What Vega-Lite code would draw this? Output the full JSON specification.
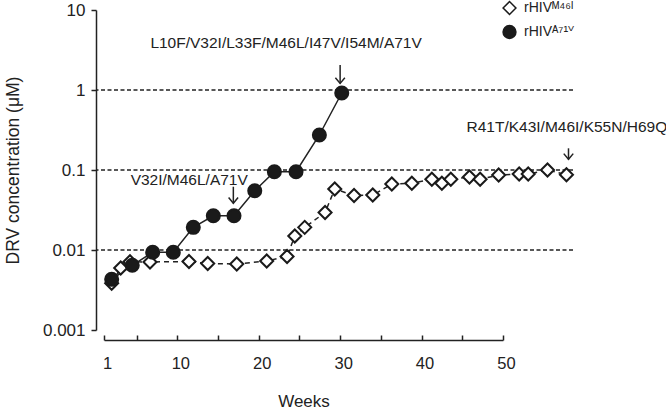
{
  "$schema": "https://vega.github.io/schema/vega-lite/v6.json",
  "width": 477,
  "height": 320,
  "autosize": "none",
  "padding": {"left": 96, "top": 10, "right": 93, "bottom": 83},
  "background": "white",
  "config": {
    "font": "Liberation Sans",
    "view": {"stroke": null},
    "axis": {"labelFont": "Liberation Sans", "titleFont": "Liberation Sans", "labelColor": "#222", "titleColor": "#222", "domainColor": "#222", "tickColor": "#222", "titleFontWeight": "normal", "grid": false, "domainWidth": 1.5, "tickWidth": 1.5},
    "legend": {"labelFont": "Liberation Sans, DejaVu Sans, sans-serif"}
  },
  "datasets": {
    "series": [
      {"s": "rHIVᴹ⁴⁶ᴵ", "w": 1.93, "v": 0.00384},
      {"s": "rHIVᴹ⁴⁶ᴵ", "w": 3.04, "v": 0.00596},
      {"s": "rHIVᴹ⁴⁶ᴵ", "w": 4.18, "v": 0.00714},
      {"s": "rHIVᴹ⁴⁶ᴵ", "w": 6.64, "v": 0.00708},
      {"s": "rHIVᴹ⁴⁶ᴵ", "w": 11.43, "v": 0.00718},
      {"s": "rHIVᴹ⁴⁶ᴵ", "w": 13.73, "v": 0.00678},
      {"s": "rHIVᴹ⁴⁶ᴵ", "w": 17.3, "v": 0.00668},
      {"s": "rHIVᴹ⁴⁶ᴵ", "w": 20.98, "v": 0.00729},
      {"s": "rHIVᴹ⁴⁶ᴵ", "w": 23.48, "v": 0.0083},
      {"s": "rHIVᴹ⁴⁶ᴵ", "w": 24.43, "v": 0.01496},
      {"s": "rHIVᴹ⁴⁶ᴵ", "w": 25.65, "v": 0.0192},
      {"s": "rHIVᴹ⁴⁶ᴵ", "w": 28.15, "v": 0.0294},
      {"s": "rHIVᴹ⁴⁶ᴵ", "w": 29.34, "v": 0.0579},
      {"s": "rHIVᴹ⁴⁶ᴵ", "w": 31.71, "v": 0.048},
      {"s": "rHIVᴹ⁴⁶ᴵ", "w": 34.01, "v": 0.0487},
      {"s": "rHIVᴹ⁴⁶ᴵ", "w": 36.35, "v": 0.0668},
      {"s": "rHIVᴹ⁴⁶ᴵ", "w": 38.81, "v": 0.0682},
      {"s": "rHIVᴹ⁴⁶ᴵ", "w": 41.27, "v": 0.0766},
      {"s": "rHIVᴹ⁴⁶ᴵ", "w": 42.5, "v": 0.0682},
      {"s": "rHIVᴹ⁴⁶ᴵ", "w": 43.6, "v": 0.0766},
      {"s": "rHIVᴹ⁴⁶ᴵ", "w": 45.89, "v": 0.0818},
      {"s": "rHIVᴹ⁴⁶ᴵ", "w": 47.2, "v": 0.0766},
      {"s": "rHIVᴹ⁴⁶ᴵ", "w": 49.48, "v": 0.0866},
      {"s": "rHIVᴹ⁴⁶ᴵ", "w": 52.0, "v": 0.0891},
      {"s": "rHIVᴹ⁴⁶ᴵ", "w": 53.11, "v": 0.0891},
      {"s": "rHIVᴹ⁴⁶ᴵ", "w": 55.48, "v": 0.1},
      {"s": "rHIVᴹ⁴⁶ᴵ", "w": 57.81, "v": 0.0873},
      {"s": "rHIVᴬ⁷¹ⱽ", "w": 1.93, "v": 0.0043},
      {"s": "rHIVᴬ⁷¹ⱽ", "w": 4.46, "v": 0.00644},
      {"s": "rHIVᴬ⁷¹ⱽ", "w": 6.97, "v": 0.00936},
      {"s": "rHIVᴬ⁷¹ⱽ", "w": 9.5, "v": 0.00936},
      {"s": "rHIVᴬ⁷¹ⱽ", "w": 11.96, "v": 0.0192},
      {"s": "rHIVᴬ⁷¹ⱽ", "w": 14.42, "v": 0.0268},
      {"s": "rHIVᴬ⁷¹ⱽ", "w": 16.96, "v": 0.0268},
      {"s": "rHIVᴬ⁷¹ⱽ", "w": 19.51, "v": 0.0551},
      {"s": "rHIVᴬ⁷¹ⱽ", "w": 21.92, "v": 0.0952},
      {"s": "rHIVᴬ⁷¹ⱽ", "w": 24.58, "v": 0.0952},
      {"s": "rHIVᴬ⁷¹ⱽ", "w": 27.45, "v": 0.274},
      {"s": "rHIVᴬ⁷¹ⱽ", "w": 30.2, "v": 0.917}
    ],
    "grid": [{"v": 1}, {"v": 0.1}, {"v": 0.01}],
    "notes": [
      {"label": "L10F/V32I/L33F/M46L/I47V/I54M/A71V", "w": 23.36, "v": 3.9, "top": 2.05, "tip": 1.21, "aw": 30.0},
      {"label": "V32I/M46L/A71V", "w": 11.46, "v": 0.0745, "top": 0.0618, "tip": 0.0384, "aw": 16.88},
      {"label": "R41T/K43I/M46I/K55N/H69Q", "w": 57.86, "v": 0.34, "top": 0.1867, "tip": 0.136, "aw": 58.06}
    ]
  },
  "layer": [
    {
      "data": {"name": "grid"},
      "mark": {"type": "rule", "strokeDash": [4, 2.5], "strokeWidth": 1.3, "color": "#222"},
      "encoding": {
        "y": {"field": "v", "type": "quantitative", "scale": {"type": "log", "domain": [0.001, 10], "nice": false}}
      }
    },
    {
      "data": {"name": "series"},
      "transform": [{"filter": "datum.s == 'rHIVᴹ⁴⁶ᴵ'"}],
      "mark": {"type": "line", "color": "#222", "strokeWidth": 1.5, "strokeDash": [5, 4], "clip": false},
      "encoding": {
        "x": {"field": "w", "type": "quantitative", "scale": {"domain": [1, 50], "range": [8.1, 406.9], "nice": false, "zero": false}},
        "y": {"field": "v", "type": "quantitative", "scale": {"type": "log", "domain": [0.001, 10], "nice": false}}
      }
    },
    {
      "data": {"name": "series"},
      "transform": [{"filter": "datum.s == 'rHIVᴬ⁷¹ⱽ'"}],
      "mark": {"type": "line", "color": "#222", "strokeWidth": 1.5, "clip": false},
      "encoding": {
        "x": {"field": "w", "type": "quantitative", "scale": {"domain": [1, 50], "range": [8.1, 406.9], "nice": false, "zero": false}},
        "y": {"field": "v", "type": "quantitative", "scale": {"type": "log", "domain": [0.001, 10], "nice": false}}
      }
    },
    {
      "data": {"name": "series"},
      "mark": {"type": "point", "filled": true, "stroke": "#1a1a1a", "strokeWidth": 2, "size": 170, "opacity": 1, "clip": false},
      "encoding": {
        "x": {"field": "w", "type": "quantitative", "scale": {"domain": [1, 50], "range": [8.1, 406.9], "nice": false, "zero": false},
          "axis": {"title": "Weeks", "values": [1, 5, 10, 15, 20, 25, 30, 35, 40, 45, 50], "labelExpr": "datum.value == 1 || datum.value % 10 == 0 ? datum.label : ''", "offset": 10, "tickSize": -5, "labelPadding": 20, "labelFontSize": 16.5, "labelOffset": 3, "titleFontSize": 17, "titlePadding": 22, "labelFlush": false}},
        "y": {"field": "v", "type": "quantitative", "scale": {"type": "log", "domain": [0.001, 10], "nice": false},
          "axis": {"title": "DRV concentration (μM)", "values": [0.001, 0.01, 0.1, 1, 10], "format": "~g", "labelFontSize": 17, "tickSize": 5, "labelPadding": 6, "titleFontSize": 17.5, "titlePadding": 20}},
        "shape": {"field": "s", "type": "nominal", "scale": {"domain": ["rHIVᴹ⁴⁶ᴵ", "rHIVᴬ⁷¹ⱽ"], "range": ["diamond", "circle"]},
          "legend": {"title": null, "orient": "none", "legendX": 406, "legendY": -9.5, "labelFontSize": 14, "symbolSize": 165, "rowPadding": 5, "padding": 0, "labelOffset": 7, "labelColor": "#222",
            "encode": {"symbols": {"update": {"stroke": {"value": "#1a1a1a"}, "strokeWidth": {"value": 2}}}}}},
        "fill": {"field": "s", "type": "nominal", "scale": {"domain": ["rHIVᴹ⁴⁶ᴵ", "rHIVᴬ⁷¹ⱽ"], "range": ["white", "#1a1a1a"]},
          "legend": {"title": null, "orient": "none", "legendX": 406, "legendY": -9.5, "labelFontSize": 14, "symbolSize": 165, "rowPadding": 5, "padding": 0, "labelOffset": 7, "labelColor": "#222",
            "encode": {"symbols": {"update": {"stroke": {"value": "#1a1a1a"}, "strokeWidth": {"value": 2}}}}}}
      }
    },
    {
      "data": {"name": "notes"},
      "mark": {"type": "text", "fontSize": 15.5, "color": "#222", "align": "center", "baseline": "middle", "clip": false},
      "encoding": {
        "x": {"field": "w", "type": "quantitative", "scale": {"domain": [1, 50], "range": [8.1, 406.9], "nice": false, "zero": false}},
        "y": {"field": "v", "type": "quantitative", "scale": {"type": "log", "domain": [0.001, 10], "nice": false}},
        "text": {"field": "label"}
      }
    },
    {
      "data": {"name": "notes"},
      "mark": {"type": "rule", "color": "#222", "strokeWidth": 1.5, "clip": false},
      "encoding": {
        "x": {"field": "aw", "type": "quantitative", "scale": {"domain": [1, 50], "range": [8.1, 406.9], "nice": false, "zero": false}},
        "y": {"field": "top", "type": "quantitative", "scale": {"type": "log", "domain": [0.001, 10], "nice": false}},
        "y2": {"field": "tip"}
      }
    },
    {
      "data": {"name": "notes"},
      "mark": {"type": "point", "shape": "M-1,-1.2L0,0L1,-1.2", "filled": false, "stroke": "#222", "strokeWidth": 1.5, "size": 90, "opacity": 1, "clip": false},
      "encoding": {
        "x": {"field": "aw", "type": "quantitative", "scale": {"domain": [1, 50], "range": [8.1, 406.9], "nice": false, "zero": false}},
        "y": {"field": "tip", "type": "quantitative", "scale": {"type": "log", "domain": [0.001, 10], "nice": false}}
      }
    }
  ]
}
